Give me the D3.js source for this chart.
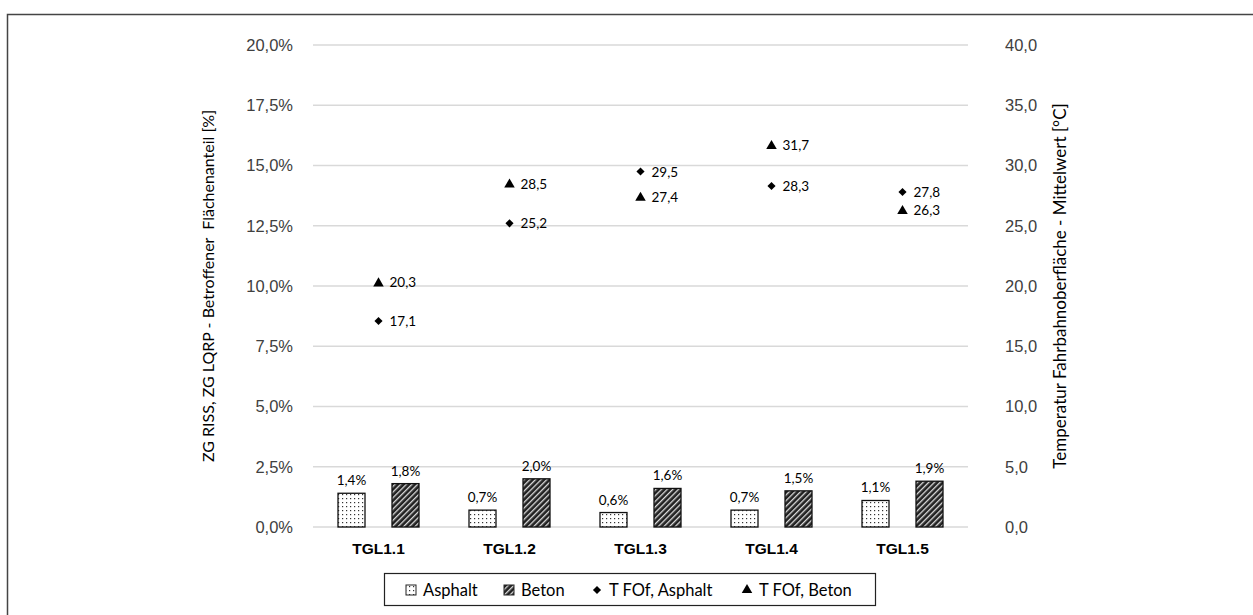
<!DOCTYPE html>
<html>
<head>
<meta charset="utf-8">
<script src="https://cdn.jsdelivr.net/npm/d3@7"></script>
<style>
  body { margin: 0; background: #fff; }
  svg { font-family: Lato, "Open Sans", sans-serif; }
</style>
</head>
<body>
<script>
var categories = ['TGL1.1', 'TGL1.2', 'TGL1.3', 'TGL1.4', 'TGL1.5']
var asphalt = [1.4, 0.7, 0.6, 0.7, 1.1]
var beton = [1.8, 2.0, 1.6, 1.5, 1.9]
var tAsphalt = [17.1, 25.2, 29.5, 28.3, 27.8]
var tBeton = [20.3, 28.5, 27.4, 31.7, 26.3]
var leftTicks = [0, 2.5, 5, 7.5, 10, 12.5, 15, 17.5, 20]
var rightTicks = [0, 5, 10, 15, 20, 25, 30, 35, 40]

var W = 1253, H = 615
var margin = {top: 45, right: 285, bottom: 88, left: 313}
var width = W - margin.left - margin.right
var height = H - margin.top - margin.bottom

var fmt = function (v, d) { return v.toFixed(d).replace('.', ',') }

var svg = d3.select('body').append('svg')
  .attr('width', W)
  .attr('height', H)

var defs = svg.append('defs')
var dots = defs.append('pattern').attr('id', 'dots')
  .attr('patternUnits', 'userSpaceOnUse').attr('width', 4).attr('height', 4)
dots.append('rect').attr('width', 4).attr('height', 4).attr('fill', '#fff')
dots.append('rect').attr('x', 1).attr('y', 1).attr('width', 1.2).attr('height', 1.2).attr('fill', '#333')

var hatch = defs.append('pattern').attr('id', 'hatch')
  .attr('patternUnits', 'userSpaceOnUse').attr('width', 4).attr('height', 4)
  .attr('patternTransform', 'rotate(45)')
hatch.append('rect').attr('width', 4).attr('height', 4).attr('fill', '#222')
hatch.append('rect').attr('x', 0).attr('width', 1.3).attr('height', 4).attr('fill', '#ddd')

// outer frame
svg.append('rect').attr('x', 7.5).attr('y', 14.5).attr('width', 1300).attr('height', 700)
  .attr('fill', 'none').attr('stroke', '#444').attr('stroke-width', 1.5)

var g = svg.append('g').attr('transform', `translate(${margin.left}, ${margin.top})`)

var x = d3.scaleBand().domain(categories).range([0, width])
var y = d3.scaleLinear().domain([0, 20]).range([height, 0])
var y2 = d3.scaleLinear().domain([0, 40]).range([height, 0])

// grid
g.selectAll('.grid').data(leftTicks).enter().append('line')
  .attr('x1', 0).attr('x2', width)
  .attr('y1', d => y(d)).attr('y2', d => y(d))
  .attr('stroke', '#d9d9d9').attr('stroke-width', 1.3)

var yAxis = g.append('g').call(d3.axisLeft(y).tickValues(leftTicks).tickSize(0).tickPadding(20)
  .tickFormat(d => fmt(d, 1) + '%'))
yAxis.select('.domain').remove()
yAxis.selectAll('text').attr('font-size', 16.5).attr('fill', '#404040')

var yAxis2 = g.append('g').attr('transform', `translate(${width}, 0)`)
  .call(d3.axisRight(y2).tickValues(rightTicks).tickSize(0).tickPadding(37)
  .tickFormat(d => fmt(d, 1)))
yAxis2.select('.domain').remove()
yAxis2.selectAll('text').attr('font-size', 16.5).attr('fill', '#404040')

var xAxis = g.append('g').attr('transform', `translate(0, ${height})`)
  .call(d3.axisBottom(x).tickSize(0).tickPadding(16))
xAxis.select('.domain').remove()
xAxis.selectAll('text').attr('font-size', 15.5).attr('font-weight', 'bold').attr('fill', '#000')

// bars
var bw = 27
var offA = -27, offB = 27
categories.forEach(function (c, i) {
  var cx = x(c) + x.bandwidth() / 2
  ;[[asphalt[i], offA, 'url(#dots)'], [beton[i], offB, 'url(#hatch)']].forEach(function (b) {
    g.append('rect')
      .attr('x', cx + b[1] - bw / 2).attr('width', bw)
      .attr('y', y(b[0])).attr('height', height - y(b[0]))
      .attr('fill', b[2]).attr('stroke', '#111').attr('stroke-width', 1.3)
    g.append('text')
      .attr('x', cx + b[1]).attr('y', y(b[0]) - 8)
      .attr('text-anchor', 'middle').attr('font-size', 13.5).attr('fill', '#000')
      .text(fmt(b[0], 1) + '%')
  })
})

// temperature markers
var diamond = d3.symbol().type(d3.symbolDiamond2).size(42)
var triangle = d3.symbol().type(d3.symbolTriangle).size(48)
categories.forEach(function (c, i) {
  var cx = x(c) + x.bandwidth() / 2
  g.append('path').attr('d', diamond())
    .attr('transform', `translate(${cx}, ${y2(tAsphalt[i])})`).attr('fill', '#000')
  g.append('text').attr('x', cx + 11).attr('y', y2(tAsphalt[i]) + 5)
    .attr('font-size', 13.5).attr('fill', '#000').text(fmt(tAsphalt[i], 1))
  g.append('path').attr('d', triangle())
    .attr('transform', `translate(${cx}, ${y2(tBeton[i]) + 1})`).attr('fill', '#000')
  g.append('text').attr('x', cx + 11).attr('y', y2(tBeton[i]) + 5)
    .attr('font-size', 13.5).attr('fill', '#000').text(fmt(tBeton[i], 1))
})

// axis titles
svg.append('text')
  .attr('transform', `translate(214, ${margin.top + height / 2}) rotate(-90)`)
  .attr('text-anchor', 'middle').attr('font-size', 16).attr('fill', '#000')
  .attr('xml:space', 'preserve').style('white-space', 'pre')
  .text('ZG RISS, ZG LQRP - Betroffener  Flächenanteil [%]')
svg.append('text')
  .attr('transform', `translate(1066, ${margin.top + height / 2}) rotate(-90)`)
  .attr('text-anchor', 'middle').attr('font-size', 17).attr('fill', '#000')
  .text('Temperatur Fahrbahnoberfläche - Mittelwert [°C]')

// legend
var lg = svg.append('g').attr('transform', 'translate(384, 573)')
lg.append('rect').attr('x', 0.5).attr('y', 0.5).attr('width', 491).attr('height', 32)
  .attr('fill', '#fff').attr('stroke', '#222').attr('stroke-width', 1.2)
var items = [
  {label: 'Asphalt', x: 22, kind: 'dots'},
  {label: 'Beton', x: 120, kind: 'hatch'},
  {label: 'T FOf, Asphalt', x: 208, kind: 'diamond'},
  {label: 'T FOf, Beton', x: 358, kind: 'triangle'}
]
items.forEach(function (it) {
  if (it.kind === 'dots' || it.kind === 'hatch') {
    lg.append('rect').attr('x', it.x).attr('y', 12).attr('width', 10).attr('height', 10)
      .attr('fill', `url(#${it.kind})`).attr('stroke', '#222').attr('stroke-width', 1)
  } else {
    lg.append('path').attr('d', it.kind === 'diamond' ? diamond() : triangle())
      .attr('transform', `translate(${it.x + 5}, 17)`).attr('fill', '#000')
  }
  lg.append('text').attr('x', it.x + 17).attr('y', 23).attr('font-size', 16.5)
    .attr('fill', '#000').text(it.label)
})
</script>
</body>
</html>
